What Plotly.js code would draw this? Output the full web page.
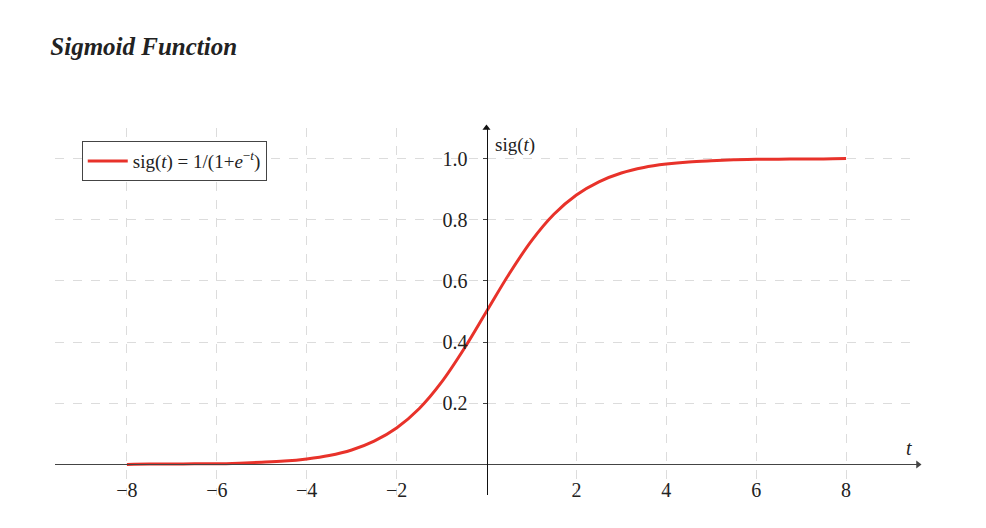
<!DOCTYPE html>
<html>
<head>
<meta charset="utf-8">
<script src="https://cdn.plot.ly/plotly-3.0.1.min.js"></script>
<style>html,body{margin:0;padding:0;background:#fff;}#chart{width:986px;height:528px;}</style>
</head>
<body>
<div id="chart"></div>
<script>
// Values
const tValues = [-8,-7.5,-7,-6.5,-6,-5.5,-5,-4.5,-4,-3.5,-3,-2.5,-2,-1.5,-1,-0.5,0,0.5,1,1.5,2,2.5,3,3.5,4,4.5,5,5.5,6,6.5,7,7.5,8];
const sigValues = [0.000,0.001,0.001,0.002,0.002,0.004,0.007,0.011,0.018,0.029,0.047,0.076,0.119,0.182,0.269,0.378,0.500,0.622,0.731,0.818,0.881,0.924,0.953,0.971,0.982,0.989,0.993,0.996,0.998,0.998,0.999,0.999,1.000];
const xTickVals = [-8,-6,-4,-2,2,4,6,8];
const xTickText = ["\u22128","\u22126","\u22124","\u22122","2","4","6","8"];
const yTickVals = [0.2,0.4,0.6,0.8,1.0];
const yTickText = ["0.2","0.4","0.6","0.8","1.0"];
const seriesName = "sig(<i>t</i>) = 1/(1+<i>e</i><sup>\u2212<i>t</i></sup>)";
const titleText = "<b><i>Sigmoid Function</i></b>";

const serif = "Liberation Serif, DejaVu Serif, serif";
const xRange = [-9.6, 9.6];
const yRange = [-0.1, 1.1];

const trace = {
  x: tValues, y: sigValues, type: 'scatter', mode: 'lines',
  name: seriesName,
  line: {color: '#e8322a', width: 3, shape: 'spline'}
};

// arrow heads at the ends of the two axes
const arrowTrace = {
  x: [xRange[1], 0], y: [0, yRange[1]], type: 'scatter', mode: 'markers',
  showlegend: false, hoverinfo: 'skip', cliponaxis: false,
  marker: {symbol: ['triangle-right', 'triangle-up'], size: 7, color: ['#444', '#111']}
};

const layout = {
  width: 986, height: 528,
  margin: {l: 55, r: 68, t: 128, b: 33},
  paper_bgcolor: '#fff', plot_bgcolor: '#fff',
  title: {text: titleText, xref: 'container', yref: 'container', x: 0.051, xanchor: 'left', y: 0.912, yanchor: 'middle',
          font: {family: serif, size: 25, color: '#222'}},
  showlegend: true,
  legend: {x: 0.031, y: 0.964, xanchor: 'left', yanchor: 'top', bordercolor: '#444', borderwidth: 1, bgcolor: '#fff',
           font: {family: serif, size: 19, color: '#222'}, itemwidth: 40},
  xaxis: {
    range: xRange, tickvals: xTickVals, ticktext: xTickText,
    showgrid: true, gridcolor: '#dcdcdc', griddash: 'dash', gridwidth: 1,
    zeroline: false, showline: true, linecolor: '#444', linewidth: 1,
    anchor: 'free', position: (0 - yRange[0]) / (yRange[1] - yRange[0]),
    ticks: '', ticklabelstandoff: 8,
    tickfont: {family: serif, size: 20, color: '#222'}, fixedrange: true
  },
  yaxis: {
    range: yRange, tickvals: yTickVals, ticktext: yTickText,
    showgrid: true, gridcolor: '#dcdcdc', griddash: 'dash', gridwidth: 1,
    zeroline: false, showline: true, linecolor: '#111', linewidth: 1.2,
    anchor: 'free', position: (0 - xRange[0]) / (xRange[1] - xRange[0]),
    ticks: 'outside', ticklen: 4, tickcolor: '#444', ticklabelstandoff: 11,
    tickfont: {family: serif, size: 20, color: '#222'}, fixedrange: true
  },
  annotations: [
    {x: xRange[1], y: 0, xref: 'x', yref: 'y', xanchor: 'right', yanchor: 'bottom', xshift: -4, yshift: 3, text: '<i>t</i>', showarrow: false, font: {family: serif, size: 20, color: '#222'}},
    {x: 0, y: yRange[1], xref: 'x', yref: 'y', xanchor: 'left', yanchor: 'top', xshift: 6, yshift: -4, text: 'sig(<i>t</i>)', showarrow: false, font: {family: serif, size: 19, color: '#222'}}
  ]
};

Plotly.newPlot('chart', [trace, arrowTrace], layout, {displayModeBar: false, staticPlot: true});
</script>
</body>
</html>
